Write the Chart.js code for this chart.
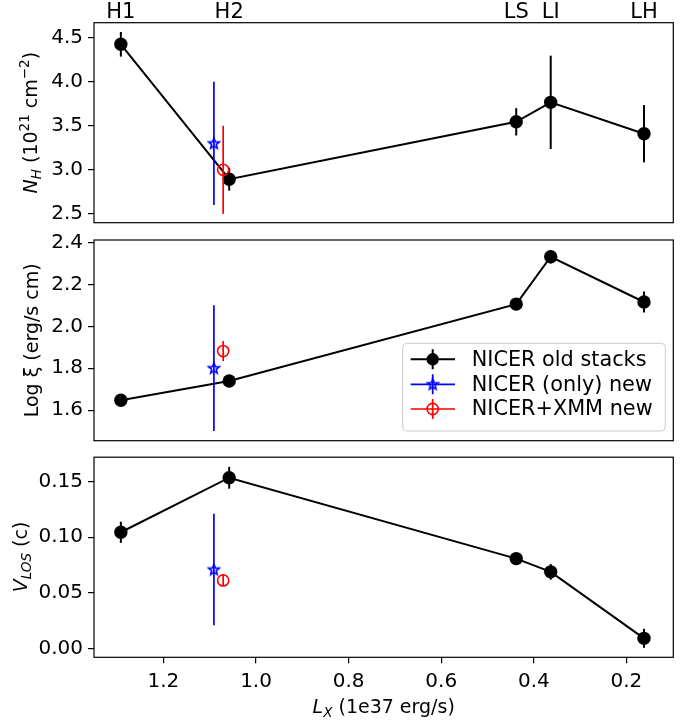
<!DOCTYPE html>
<html>
<head>
<meta charset="utf-8">
<script src="https://cdn.jsdelivr.net/npm/chart.js@4"></script>
<style>
html, body { margin: 0; padding: 0; background: #fff; }
#wrap { position: relative; width: 687px; height: 722px; }
canvas { position: absolute; left: 0; }
</style>
</head>
<body>
<div id="wrap">
  <canvas id="cNh" width="687" height="230" style="top:0px"></canvas>
  <canvas id="cXi" width="687" height="220" style="top:230px"></canvas>
  <canvas id="cV" width="687" height="272" style="top:450px"></canvas>
</div>
<script>
// data
var stateLabels = ['H1', 'H2', 'LS', 'LI', 'LH'];
var lxOld = [1.292, 1.058, 0.438, 0.3635, 0.162];
var nhOld = [4.425, 2.894, 3.545, 3.766, 3.41];
var nhOldErr = [0.14, 0.13, 0.155, 0.53, 0.325];
var xiOld = [1.647, 1.739, 2.106, 2.332, 2.116];
var xiOldErr = [0.01, 0.012, 0.012, 0.032, 0.05];
var vOld = [0.1044, 0.1533, 0.0808, 0.0689, 0.0093];
var vOldErr = [0.0095, 0.0098, 0.004, 0.007, 0.0085];

var lxNicer = [1.091];
var nhNicer = [3.3], nhNicerErr = [0.7];
var xiNicer = [1.8], xiNicerErr = [0.3];
var vNicer = [0.071], vNicerErr = [0.05];

var lxXmm = [1.071];
var nhXmm = [3.0], nhXmmErr = [0.5];
var xiXmm = [1.882], xiXmmErr = [0.048];
var vXmm = [0.0612], vXmmErr = [0.005];

var xTicks = [1.2, 1.0, 0.8, 0.6, 0.4, 0.2];
var nhTicks = [2.5, 3.0, 3.5, 4.0, 4.5];
var xiTicks = [1.6, 1.8, 2.0, 2.2, 2.4];
var vTicks = [0.0, 0.05, 0.10, 0.15];

var X_MIN = 0.0987, X_MAX = 1.35;
var FONT = 'DejaVu Sans';

Chart.defaults.font.family = FONT;
Chart.defaults.font.size = 20;
Chart.defaults.color = '#000';
Chart.defaults.animation = false;

function pts(xs, ys) {
  return xs.map(function (x, i) { return { x: x, y: ys[i] }; });
}

function starImage(color) {
  var c = document.createElement('canvas');
  c.width = c.height = 14;
  var g = c.getContext('2d');
  g.strokeStyle = color;
  g.lineWidth = 1.6;
  g.lineJoin = 'miter';
  var R = 5.6, r = 2.4;
  g.beginPath();
  for (var i = 0; i < 10; i++) {
    var a = -Math.PI / 2 + i * Math.PI / 5;
    var rr = i % 2 ? r : R;
    g.lineTo(7 + rr * Math.cos(a), 7.3 + rr * Math.sin(a));
  }
  g.closePath();
  g.stroke();
  return c;
}
var star = starImage('#0000ff');

function makeDatasets(yOld, yOldErr, yNicer, yNicerErr, yXmm, yXmmErr) {
  return [
    { label: 'NICER old stacks', data: pts(lxOld, yOld), errs: yOldErr, errWidth: 2,
      showLine: true, borderColor: '#000', backgroundColor: '#000', borderWidth: 2,
      pointRadius: 6.7, pointBorderWidth: 0, pointStyle: 'circle', order: 3 },
    { label: 'NICER (only) new', data: pts(lxNicer, yNicer), errs: yNicerErr, errWidth: 1.7,
      showLine: false, borderColor: '#0000ff', backgroundColor: '#0000ff',
      pointStyle: star, pointRadius: 6, order: 2 },
    { label: 'NICER+XMM new', data: pts(lxXmm, yXmm), errs: yXmmErr, errWidth: 1.7,
      showLine: false, borderColor: '#ff0000', backgroundColor: 'rgba(0,0,0,0)',
      pointStyle: 'circle', pointRadius: 5.6, pointBorderWidth: 1.6, order: 1 }
  ];
}

var errorBars = {
  id: 'errorBars',
  beforeDatasetDraw: function (chart, args) {
    var ds = chart.data.datasets[args.index];
    if (!ds.errs) return;
    var xs = chart.scales.x, ys = chart.scales.y, ctx = chart.ctx;
    ctx.save();
    ctx.strokeStyle = ds.borderColor;
    ctx.lineWidth = ds.errWidth;
    ds.data.forEach(function (p, i) {
      var px = xs.getPixelForValue(p.x);
      ctx.beginPath();
      ctx.moveTo(px, ys.getPixelForValue(p.y - ds.errs[i]));
      ctx.lineTo(px, ys.getPixelForValue(p.y + ds.errs[i]));
      ctx.stroke();
    });
    ctx.restore();
  }
};

var frame = {
  id: 'frame',
  afterDraw: function (chart) {
    var a = chart.chartArea, ctx = chart.ctx;
    ctx.save();
    ctx.strokeStyle = '#000';
    ctx.lineWidth = 1.2;
    ctx.strokeRect(a.left, a.top, a.right - a.left, a.bottom - a.top);
    ctx.restore();
  }
};

// axis titles with italic / sub / superscript pieces
function drawRich(ctx, parts, x, y, rotate) {
  ctx.save();
  ctx.translate(x, y);
  if (rotate) ctx.rotate(-Math.PI / 2);
  function font(p) {
    return (p.i ? 'italic ' : '') + ((p.sub || p.sup) ? 13.5 : 19) + 'px "' + FONT + '"';
  }
  var w = 0;
  parts.forEach(function (p) { ctx.font = font(p); w += ctx.measureText(p.t).width; });
  var cx = -w / 2;
  ctx.fillStyle = '#000';
  ctx.textBaseline = 'alphabetic';
  parts.forEach(function (p) {
    ctx.font = font(p);
    var dy = p.sub ? 4 : (p.sup ? -8 : 0);
    ctx.fillText(p.t, cx, dy);
    cx += ctx.measureText(p.t).width;
  });
  ctx.restore();
}

var titles = {
  id: 'titles',
  afterDraw: function (chart, args, opts) {
    (opts.list || []).forEach(function (t) {
      drawRich(chart.ctx, t.parts, t.x, t.y, t.rotate);
    });
  }
};

var errLegend = {
  id: 'errLegend',
  afterDatasetsDraw: function (chart, args, opts) {
    if (!opts.show) return;
    var ctx = chart.ctx;
    ctx.save();
    ctx.beginPath();
    ctx.roundRect(402.7, 113.3, 262.6, 87.7, 4);
    ctx.fillStyle = 'rgba(255,255,255,0.8)';
    ctx.fill();
    ctx.strokeStyle = '#cccccc';
    ctx.lineWidth = 1;
    ctx.stroke();
    var rows = [129.3, 154.3, 179];
    chart.data.datasets.forEach(function (ds, i) {
      var y = rows[i], mx = 432.7;
      ctx.strokeStyle = ds.borderColor;
      ctx.lineWidth = ds.errWidth;
      ctx.beginPath();
      ctx.moveTo(410.7, y); ctx.lineTo(455, y);
      ctx.moveTo(mx, y - 10); ctx.lineTo(mx, y + 10);
      ctx.stroke();
      if (i === 0) {
        ctx.fillStyle = '#000';
        ctx.beginPath(); ctx.arc(mx, y, 6.2, 0, Math.PI * 2); ctx.fill();
      } else if (i === 1) {
        ctx.drawImage(star, mx - 7, y - 7);
      } else {
        ctx.lineWidth = 1.6;
        ctx.beginPath(); ctx.arc(mx, y, 5.6, 0, Math.PI * 2); ctx.stroke();
      }
      ctx.fillStyle = '#000';
      ctx.font = '20.8px "' + FONT + '"';
      ctx.textBaseline = 'middle';
      ctx.fillText(ds.label, 471.7, y + 1);
    });
    ctx.restore();
  }
};

function yAxis(min, max, tickVals, digits) {
  return {
    type: 'linear', min: min, max: max,
    afterBuildTicks: function (s) { s.ticks = tickVals.map(function (v) { return { value: v }; }); },
    afterFit: function (s) {
      s.width = 94;
      s.paddingTop = 0; s.paddingBottom = 0;
    },
    ticks: { padding: 5, callback: function (v) { return v.toFixed(digits); } },
    grid: { drawOnChartArea: false, tickLength: 6, color: '#000', tickColor: '#000', lineWidth: 1.2 },
    border: { display: false }
  };
}

function xAxis(show) {
  return {
    type: 'linear', min: X_MIN, max: X_MAX, reverse: true, display: show,
    afterBuildTicks: function (s) { s.ticks = xTicks.map(function (v) { return { value: v }; }); },
    afterFit: function (s) {
      s.height = show ? 64.7 : 0;
      s.paddingLeft = 0; s.paddingRight = 0;
    },
    ticks: { padding: 6, autoSkip: false, maxRotation: 0, callback: function (v) { return v.toFixed(1); } },
    grid: { drawOnChartArea: false, tickLength: 6, color: '#000', tickColor: '#000', lineWidth: 1.2 },
    border: { display: false }
  };
}

function baseOptions(padding, scales, titleList, showLegend) {
  return {
    responsive: false,
    devicePixelRatio: 1,
    animation: false,
    layout: { padding: padding },
    scales: scales,
    plugins: {
      legend: { display: false },
      tooltip: { enabled: false },
      titles: { list: titleList },
      errLegend: { show: showLegend }
    }
  };
}

// top panel: N_H
var nhScales = {
  x: xAxis(false),
  xTop: {
    type: 'linear', position: 'top', min: X_MIN, max: X_MAX, reverse: true,
    afterBuildTicks: function (s) { s.ticks = lxOld.map(function (v) { return { value: v }; }); },
    afterFit: function (s) { s.height = 22.7; s.paddingLeft = 0; s.paddingRight = 0; },
    ticks: { padding: 0, autoSkip: false, maxRotation: 0, font: { size: 21, lineHeight: 1 },
      callback: function (v, i) { return stateLabels[i]; } },
    grid: { display: false, drawTicks: false },
    border: { display: false }
  },
  y: yAxis(2.40, 4.67, nhTicks, 1)
};
new Chart(document.getElementById('cNh'), {
  type: 'scatter',
  data: { datasets: makeDatasets(nhOld, nhOldErr, nhNicer, nhNicerErr, nhXmm, nhXmmErr) },
  options: baseOptions({ left: 0, right: 13.7, top: 0, bottom: 7.3 }, nhScales, [
    { x: 36.5, y: 122.7, rotate: true, parts: [
      { t: 'N', i: 1 }, { t: 'H', i: 1, sub: 1 }, { t: ' (10' }, { t: '21', sup: 1 },
      { t: ' cm' }, { t: '\u22122', sup: 1 }, { t: ')' }] }
  ], false),
  plugins: [errorBars, frame, titles, errLegend]
});

// middle panel: log xi
new Chart(document.getElementById('cXi'), {
  type: 'scatter',
  data: { datasets: makeDatasets(xiOld, xiOldErr, xiNicer, xiNicerErr, xiXmm, xiXmmErr) },
  options: baseOptions({ left: 0, right: 13.7, top: 10, bottom: 9.3 },
    { x: xAxis(false), y: yAxis(1.454, 2.412, xiTicks, 1) }, [
    { x: 37.5, y: 110.3, rotate: true, parts: [{ t: 'Log \u03be (erg/s cm)' }] }
  ], true),
  plugins: [errorBars, frame, titles, errLegend]
});

// bottom panel: V_LOS
new Chart(document.getElementById('cV'), {
  type: 'scatter',
  data: { datasets: makeDatasets(vOld, vOldErr, vNicer, vNicerErr, vXmm, vXmmErr) },
  options: baseOptions({ left: 0, right: 13.7, top: 6.7, bottom: 0 },
    { x: xAxis(true), y: yAxis(-0.0077, 0.1717, vTicks, 2) }, [
    { x: 26.7, y: 107, rotate: true, parts: [{ t: 'V', i: 1 }, { t: 'LOS', i: 1, sub: 1 }, { t: ' (c)' }] },
    { x: 383.7, y: 263.3, rotate: false, parts: [{ t: 'L', i: 1 }, { t: 'X', i: 1, sub: 1 }, { t: ' (1e37 erg/s)' }] }
  ], false),
  plugins: [errorBars, frame, titles, errLegend]
});
</script>
</body>
</html>
